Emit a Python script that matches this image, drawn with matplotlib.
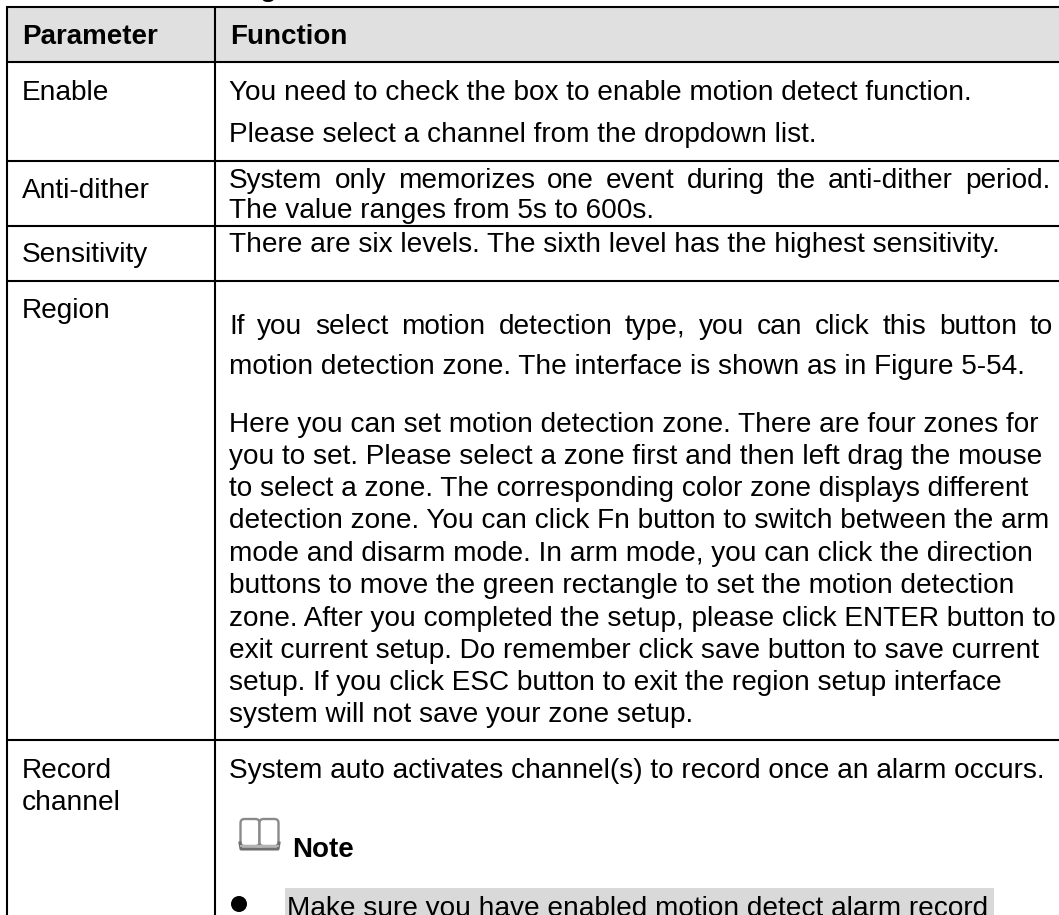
"""Parameter / Function table page, drawn in pixel coordinates."""
import matplotlib; matplotlib.use('Agg')
import matplotlib.pyplot as plt
from matplotlib.patches import Rectangle, Circle, FancyBboxPatch

W, H = 1059, 915
FONT = 'Liberation Sans'
FS = 20.15     # regular, pt
FSB = 20.0     # bold, pt

headers = ['Parameter', 'Function']
row_rules = [7, 62, 161, 226, 281, 740]
col_rules = [7, 215]

# (text, baseline y)
params = [('Enable', 99.5), ('Anti-dither', 197.5), ('Sensitivity', 262.5), ('Region', 317.5),
          ('Record', 778.5), ('channel', 810.5)]
# (text, baseline y, right end if the line is justified)
lines = [
    ('You need to check the box to enable motion detect function.', 99.5, None),
    ('Please select a channel from the dropdown list.', 142.5, None),
    ('System only memorizes one event during the anti-dither period.', 187.5, 1050),
    ('The value ranges from 5s to 600s.', 218.5, None),
    ('There are six levels. The sixth level has the highest sensitivity.', 251.5, None),
    ('If you select motion detection type, you can click this button to', 333.5, 1053),
    ('motion detection zone. The interface is shown as in Figure 5-54.', 373.5, None),
    ('Here you can set motion detection zone. There are four zones for', 432.5, None),
    ('you to set. Please select a zone first and then left drag the mouse', 464.5, None),
    ('to select a zone. The corresponding color zone displays different', 496.5, None),
    ('detection zone. You can click Fn button to switch between the arm', 528.5, None),
    ('mode and disarm mode. In arm mode, you can click the direction', 561, None),
    ('buttons to move the green rectangle to set the motion detection', 593, None),
    ('zone. After you completed the setup, please click ENTER button to', 625.5, None),
    ('exit current setup. Do remember click save button to save current', 657.5, None),
    ('setup. If you click ESC button to exit the region setup interface', 689.5, None),
    ('system will not save your zone setup.', 722, None),
    ('System auto activates channel(s) to record once an alarm occurs.', 778.5, None),
]
note_label = 'Note'
bullet_text = 'Make sure you have enabled motion detect alarm record'

fig = plt.figure(figsize=(W / 100, H / 100), dpi=100)
ax = fig.add_axes([0, 0, 1, 1])
ax.set_xlim(0, W); ax.set_ylim(H, 0); ax.axis('off')

def put(x, y, s, fs=FS, weight='normal'):
    return ax.text(x, y, s, fontsize=fs, fontweight=weight, family=FONT, color='black', va='baseline', ha='left')

def justified(x0, x1, y, s):
    # spread the words so the line ends at x1
    r = fig.canvas.get_renderer()
    words = s.split(' ')
    arts = [put(x0, y, w) for w in words]
    widths = [a.get_window_extent(r).width for a in arts]
    gap = (x1 - x0 - sum(widths)) / (len(words) - 1)
    x = x0
    for a, w in zip(arts, widths):
        a.set_x(x)
        x += w + gap

# header band and note highlight
ax.add_patch(Rectangle((7, 7), W - 7, 55, fc='#e0e0e0', ec='none'))
ax.add_patch(Rectangle((285, 888), 709, 30, fc='#d9d9d9', ec='none'))

for y in row_rules:
    ax.plot([6, W], [y, y], color='black', lw=1.5, solid_capstyle='butt')
for x in col_rules:
    ax.plot([x, x], [6, H], color='black', lw=1.5, solid_capstyle='butt')

# tail of the caption line cut off above the table
put(260, -4, 'g', FSB, 'bold')

put(22, 43.5, headers[0], FSB, 'bold')
put(230, 43.5, headers[1], FSB, 'bold')
for s, y in params:
    put(22, y, s)
for s, y, x1 in lines:
    if x1 is None:
        put(229, y, s)
    else:
        justified(229, x1, y, s)

# book icon next to Note
book = '#8a8a8a'
for x0, x1 in [(240.5, 259.5), (259.5, 278.5)]:
    ax.add_patch(FancyBboxPatch((x0, 819), x1 - x0, 27, boxstyle='round,pad=0,rounding_size=4',
                                fc='white', ec=book, lw=1.7))
ax.plot([240, 241, 278, 279], [843, 849, 849, 843], color='#6f6f6f', lw=2.2)
ax.plot([241, 278], [846, 846], color='#b5b5b5', lw=1.4)

put(292, 857, note_label, FSB, 'bold')
ax.add_patch(Circle((239, 904), 8, fc='black', ec='none'))
put(287, 916, bullet_text)

fig.savefig('out.png', dpi=100)
